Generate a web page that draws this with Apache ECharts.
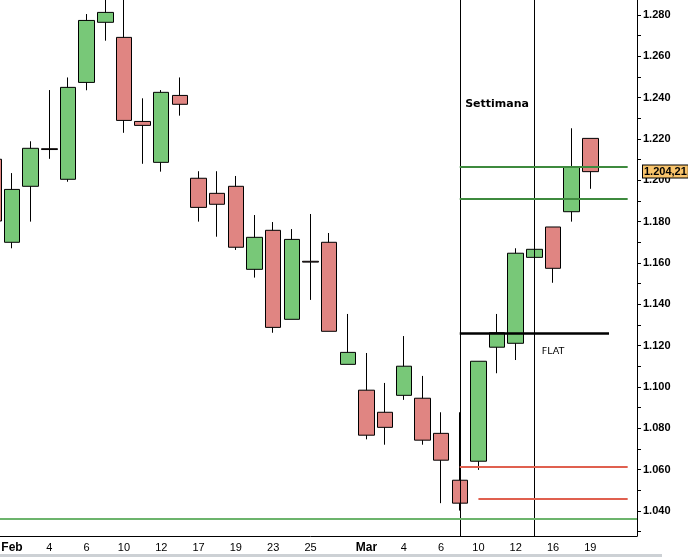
<!DOCTYPE html>
<html>
<head>
<meta charset="utf-8">
<script src="https://cdn.jsdelivr.net/npm/echarts@6/dist/echarts.min.js"></script>
<style>
  html, body { margin: 0; padding: 0; background: #fff; overflow: hidden; }
  body { width: 688px; height: 559px; position: relative; }
  /* the first candle is cut by the left edge, so the chart starts a little left of the window */
  #chart { position: absolute; left: -16px; top: 0; width: 704px; height: 559px; }
</style>
</head>
<body>
<div id="chart"></div>
<script>
// sessions on the x axis (blank = session without a label)
var days = ['', 'Feb', '', '4', '', '6', '', '10', '', '12', '', '17', '', '19', '', '23', '', '25', '', '',
            'Mar', '', '4', '', '6', '', '10', '', '12', '', '16', '', '19', '', ''];

// daily candles
var opens  = [1.2102, 1.1700, 1.1971, 1.2153, 1.2005, 1.2474, 1.2765, 1.2692, 1.2285, 1.2087, 1.2411,
              1.2010, 1.1937, 1.1971, 1.1569, 1.1758, 1.1327, 1.1608, 1.1700, 1.1109, 1.0984, 1.0877,
              1.0959, 1.0945, 1.0775, 1.0548, 1.0640, 1.1192, 1.1211, 1.1627, 1.1774, 1.1848, 1.2203];
var closes = [1.1803, 1.1956, 1.2155, 1.2149, 1.2450, 1.2774, 1.2813, 1.2290, 1.2266, 1.2426, 1.2368,
              1.1869, 1.1884, 1.1676, 1.1724, 1.1288, 1.1714, 1.1604, 1.1269, 1.1167, 1.0766, 1.0804,
              1.1100, 1.0742, 1.0645, 1.0437, 1.1124, 1.1262, 1.1647, 1.1666, 1.1574, 1.2063, 1.2042];
var lows   = [1.1780, 1.1671, 1.1800, 1.2104, 1.1993, 1.2436, 1.2676, 1.2230, 1.2080, 1.2042, 1.2313,
              1.1800, 1.1727, 1.1663, 1.1529, 1.1262, 1.1327, 1.1421, 1.1269, 1.1109, 1.0746, 1.0720,
              1.0937, 1.0720, 1.0437, 1.0401, 1.0598, 1.1066, 1.1130, 1.1493, 1.1504, 1.1800, 1.1959];
var highs  = [1.2120, 1.2035, 1.2189, 1.2437, 1.2498, 1.2805, 1.2920, 1.2920, 1.2397, 1.2437, 1.2498,
              1.2044, 1.2044, 1.2021, 1.1832, 1.1798, 1.1764, 1.1837, 1.1745, 1.1353, 1.1164, 1.1019,
              1.1246, 1.1053, 1.0877, 1.0877, 1.1124, 1.1353, 1.1671, 1.1706, 1.1774, 1.2252, 1.2203];

// y axis ticks
var yLabels = [1.04, 1.06, 1.08, 1.10, 1.12, 1.14, 1.16, 1.18, 1.20, 1.22, 1.24, 1.26, 1.28];
var yTicks  = [1.03, 1.04, 1.05, 1.06, 1.07, 1.08, 1.09, 1.10, 1.11, 1.12, 1.13, 1.14, 1.15, 1.16,
               1.17, 1.18, 1.19, 1.20, 1.21, 1.22, 1.23, 1.24, 1.25, 1.26, 1.27, 1.28];

// drawn levels
var weekMarks = [25, 29];
var greenLevels = [1.2064, 1.1911];
var flatLevel = 1.1262;
var redLevels = [1.0614, 1.0457];
var supportLevel = 1.0361;
var lastPrice = 1.20421;

var candles = opens.map(function (o, i) {
  return [o, closes[i], lows[i], highs[i]];
});

var myChart = echarts.init(document.getElementById('chart'));

var solid = function (color, width) {
  return { color: color, width: width, type: 'solid', opacity: 1 };
};

var option = {
  animation: false,
  backgroundColor: '#fff',
  textStyle: { fontFamily: 'Liberation Sans, Arial, sans-serif' },
  grid: { left: 0, right: 51, top: 0, bottom: 23 },
  xAxis: {
    type: 'category',
    data: days,
    boundaryGap: true,
    axisLine: { lineStyle: { color: '#000', width: 1 } },
    axisTick: {
      alignWithLabel: true,
      length: 4,
      lineStyle: { color: '#000' },
      interval: function (i, v) { return v !== ''; }
    },
    axisLabel: {
      interval: 0,
      color: '#000',
      fontSize: 11,
      margin: 6,
      formatter: function (v) { return (v === 'Feb' || v === 'Mar') ? '{m|' + v + '}' : v; },
      rich: { m: { fontWeight: 'bold', fontSize: 12, color: '#000' } }
    },
    splitLine: { show: false }
  },
  yAxis: {
    type: 'value',
    position: 'right',
    min: 1.0278,
    max: 1.2873,
    splitLine: { show: false },
    axisLine: { show: true, lineStyle: { color: '#000', width: 1 } },
    axisTick: { show: true, length: 4, lineStyle: { color: '#000' }, customValues: yTicks },
    axisLabel: {
      customValues: yLabels,
      color: '#000',
      fontWeight: 'bold',
      fontSize: 11,
      margin: 6,
      formatter: function (v) { return v.toFixed(3); }
    }
  },
  series: [{
    type: 'candlestick',
    data: candles,
    barWidth: 16,
    clip: true,
    itemStyle: {
      color: '#78c878',
      color0: '#e08582',
      borderColor: '#000',
      borderColor0: '#000',
      borderWidth: 1
    },
    markLine: {
      silent: true,
      precision: 5,
      symbol: ['none', 'none'],
      label: { show: false },
      emphasis: { disabled: true },
      data: [
        { xAxis: weekMarks[0], lineStyle: solid('#000', 1) },
        { xAxis: weekMarks[1], lineStyle: solid('#000', 1) },
        [{ coord: [25, greenLevels[0]], lineStyle: solid('#3e8a3e', 2) }, { coord: [34, greenLevels[0]] }],
        [{ coord: [25, greenLevels[1]], lineStyle: solid('#3e8a3e', 2) }, { coord: [34, greenLevels[1]] }],
        [{ coord: [25, flatLevel], lineStyle: solid('#000', 2.5) }, { coord: [33, flatLevel] }],
        [{ coord: [25, redLevels[0]], lineStyle: solid('#e0604f', 2) }, { coord: [34, redLevels[0]] }],
        [{ coord: [26, redLevels[1]], lineStyle: solid('#e0604f', 2) }, { coord: [34, redLevels[1]] }],
        { yAxis: supportLevel, lineStyle: solid('#6cb46c', 2) },
        {
          yAxis: lastPrice,
          lineStyle: { color: 'rgba(0,0,0,0)', width: 1, opacity: 1 },
          label: {
            show: true,
            position: 'end',
            distance: 6,
            formatter: '1.204,21',
            color: '#000',
            opacity: 1,
            fontWeight: 'bold',
            fontSize: 11,
            backgroundColor: '#f9c46b',
            borderColor: '#000',
            borderWidth: 1,
            padding: [1, 1, 0, 1]
          }
        }
      ]
    },
    markPoint: {
      silent: true,
      symbol: 'circle',
      symbolSize: 1,
      itemStyle: { color: 'transparent' },
      data: [
        {
          coord: [27, 1.2369],
          label: { show: true, position: 'inside', formatter: 'Settimana', color: '#000',
                   fontFamily: 'DejaVu Sans', fontWeight: 'bold', fontSize: 11 }
        },
        {
          coord: [30, 1.1169],
          label: { show: true, position: 'inside', formatter: 'FLAT', color: '#000',
                   fontFamily: 'DejaVu Sans', fontSize: 9.5 }
        }
      ]
    }
  }],
  graphic: [{
    type: 'rect',
    left: 16,
    top: 554,
    shape: { width: 662, height: 3 },
    style: { fill: '#cdd1d5' }
  }]
};

myChart.setOption(option);
</script>
</body>
</html>
